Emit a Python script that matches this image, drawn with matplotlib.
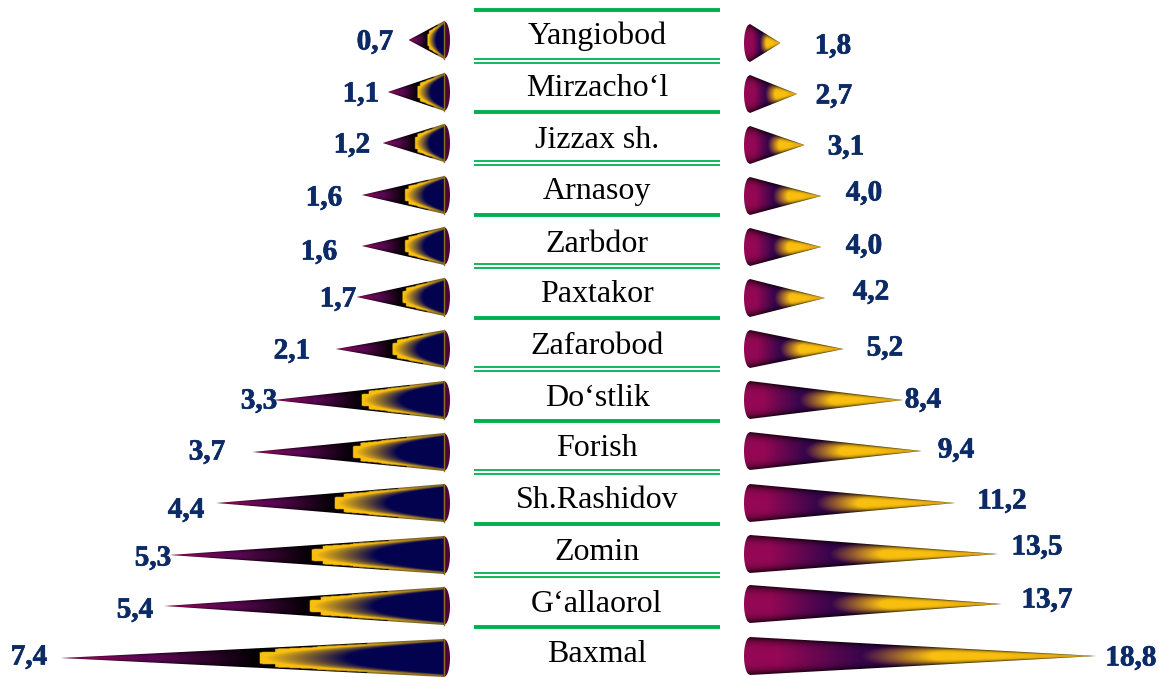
#!/usr/bin/env python3

import numpy as np
import matplotlib
matplotlib.use("Agg")
import matplotlib.pyplot as plt
import matplotlib.patheffects as pe
from matplotlib.patches import Polygon

districts = ["Yangiobod", "Mirzacho‘l", "Jizzax sh.", "Arnasoy", "Zarbdor", "Paxtakor",
             "Zafarobod", "Do‘stlik", "Forish", "Sh.Rashidov", "Zomin", "G‘allaorol", "Baxmal"]
left_values = [0.7, 1.1, 1.2, 1.6, 1.6, 1.7, 2.1, 3.3, 3.7, 4.4, 5.3, 5.4, 7.4]
right_values = [1.8, 2.7, 3.1, 4.0, 4.0, 4.2, 5.2, 8.4, 9.4, 11.2, 13.5, 13.7, 18.8]

# layout, in pixels of the 1159x677 canvas
left_row_y = [40, 92, 143, 195, 246, 297, 349, 400, 452, 503, 555, 606, 658]
right_row_y = [43, 94, 145, 196, 247, 298, 349, 400, 451, 503, 554, 604, 656]
name_y = [36, 88, 140, 192, 244, 295, 346, 398, 449, 500, 552, 604, 655]
left_label_pos = [(375, 42), (361, 94), (352, 145), (324, 198), (319, 252), (338, 299), (292, 351),
                  (259, 401), (207, 452), (186, 510), (153, 558), (135, 610), (29, 657)]
right_label_pos = [(833, 46), (834, 96), (846, 147), (864, 193), (864, 246), (871, 292), (885, 348),
                   (923, 400), (956, 450), (1002, 501), (1037, 547), (1047, 600), (1131, 658)]
single_rules = [10, 112, 215, 318, 421, 524, 627]
double_rules = [61, 163, 266, 369, 472, 575]

LEFT_BASE = 444
RIGHT_BASE = 750
LEFT_SCALE = 52.0
RIGHT_SCALE = 18.6
RADIUS = 19
BULGE = 6

NAVY = np.array([0.01, 0.01, 0.31])
GOLD = np.array([0.98, 0.75, 0.06])
OLIVE = np.array([0.50, 0.40, 0.14])
BLACK = np.array([0.03, 0.0, 0.03])
PURPLE = np.array([0.36, 0.03, 0.33])
MAGENTA = np.array([0.58, 0.03, 0.33])
DARK_PURPLE = np.array([0.22, 0.02, 0.30])


def mix(a, b, t):
    t = np.clip(t, 0, 1)[..., None]
    return a * (1 - t) + b * t


def left_colors(u, w):
    aw = np.abs(w)
    g = np.clip(u, 0, None) / 0.6 + 0.25 * w**2 + 0.6 * aw**6
    rgb = mix(NAVY, GOLD, (g - 0.42) / 0.36)
    rgb = mix(rgb, OLIVE, (aw - 0.86) / 0.1)
    # stepped black boundary on the tip side of the gold
    limit = np.select([aw < 0.6, aw < 0.88, aw < 0.95], [0.48, 0.44, 0.33], default=0.2)
    black = u > limit
    tail = mix(BLACK, PURPLE, (u - 0.5) / 0.25)
    tail = mix(tail, MAGENTA, (u - 0.78) / 0.2)
    tail = tail * (1 - 0.6 * aw**3)[..., None]
    rgb[black] = tail[black]
    # base rim
    rgb[u < 0] = np.array([0.30, 0.03, 0.22])
    return rgb


def right_colors(u, w):
    rgb = mix(MAGENTA, DARK_PURPLE, (u - 0.08) / 0.24)
    rgb = mix(rgb, GOLD, (u - 0.32 - 0.1 * w**2) / 0.2)
    rgb = mix(rgb, np.array([0.85, 0.62, 0.08]), (u - 0.72) / 0.28)
    shade = 1 - 0.75 * np.abs(w) ** 4
    return rgb * shade[..., None]


def draw_cone(ax, base, tip, y0, color_func):
    sign = 1 if tip > base else -1
    length = abs(tip - base)
    x_back = base - sign * BULGE
    x0, x1 = sorted((x_back, tip))
    xs = np.linspace(x0, x1, int((x1 - x0) * 2) + 2)
    ys = np.linspace(-RADIUS, RADIUS, 2 * RADIUS * 2 + 1)
    xx, yy = np.meshgrid(xs, ys)
    u = (xx - base) * sign / length
    local = RADIUS * np.clip(1 - u, 0.02, 1)
    w = np.clip(yy / local, -1, 1)
    rgb = color_func(u, w)

    im = ax.imshow(rgb, extent=(x0, x1, y0 + RADIUS, y0 - RADIUS), origin="upper",
                   aspect="auto", interpolation="bilinear", zorder=2)
    arc = np.linspace(-1, 1, 30)
    outline = [(tip, y0)] + [(base - sign * BULGE * np.sqrt(1 - a**2), y0 + RADIUS * a) for a in arc]
    clip = Polygon(outline, closed=True, transform=ax.transData, facecolor="none", edgecolor="none")
    ax.add_patch(clip)
    im.set_clip_path(clip)


def value_text(ax, pos, value):
    ax.text(pos[0], pos[1], f"{value:.1f}".replace(".", ","), ha="center", va="center",
            fontsize=21, fontweight="bold", color="#0b2a66",
            path_effects=[pe.withStroke(linewidth=0.5, foreground="#0b2a66")])


def main():
    plt.rcParams["font.family"] = ["Liberation Serif", "DejaVu Serif"]
    fig = plt.figure(figsize=(11.59, 6.77), dpi=100)
    ax = fig.add_axes([0, 0, 1, 1])
    ax.axis("off")

    for i, name in enumerate(districts):
        left_tip = LEFT_BASE + 1 - left_values[i] * LEFT_SCALE
        draw_cone(ax, LEFT_BASE, left_tip, left_row_y[i], left_colors)
        ax.plot([LEFT_BASE, LEFT_BASE], [left_row_y[i] - RADIUS, left_row_y[i] + RADIUS],
                color="#8a7020", lw=1.0, zorder=3)

        right_tip = RIGHT_BASE - 3 + right_values[i] * RIGHT_SCALE
        draw_cone(ax, RIGHT_BASE, right_tip, right_row_y[i], right_colors)

        ax.text(597, name_y[i], name, ha="center", va="center", fontsize=23, color="black")
        value_text(ax, left_label_pos[i], left_values[i])
        value_text(ax, right_label_pos[i], right_values[i])

    for y in single_rules:
        ax.plot([474, 720], [y, y], color="#00b050", lw=2.8, solid_capstyle="butt")
    for y in double_rules:
        ax.plot([474, 720], [y - 1.8, y - 1.8], color="#00b050", lw=1.3, solid_capstyle="butt")
        ax.plot([474, 720], [y + 1.8, y + 1.8], color="#00b050", lw=1.3, solid_capstyle="butt")

    ax.set_xlim(0, 1159)
    ax.set_ylim(677, 0)
    fig.savefig("out.png", dpi=100)


if __name__ == "__main__":
    main()
